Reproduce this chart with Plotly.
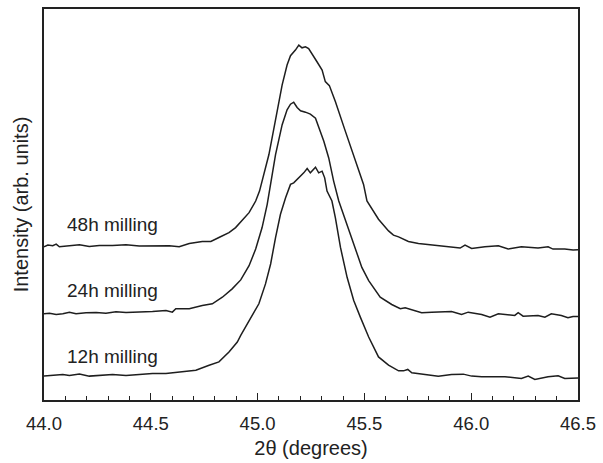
import plotly.graph_objects as go

# 2-theta (degrees) and intensity (arb. units, stacked) for each milling time
x_48h = [44.00, 44.018, 44.041, 44.057, 44.072, 44.119, 44.166, 44.212, 44.259, 44.321, 44.384, 44.446,
         44.508, 44.571, 44.586, 44.633, 44.680, 44.741, 44.781, 44.819, 44.866, 44.897, 44.921, 44.960,
         44.991, 45.009, 45.053, 45.084, 45.115, 45.138, 45.154, 45.177, 45.193, 45.208, 45.224, 45.239,
         45.255, 45.278, 45.302, 45.317, 45.336, 45.364, 45.411, 45.458, 45.496, 45.512, 45.566, 45.613,
         45.636, 45.660, 45.706, 45.753, 45.815, 45.846, 45.908, 45.948, 45.971, 46.002, 46.064, 46.127,
         46.173, 46.235, 46.313, 46.360, 46.383, 46.438, 46.477, 46.500]
y_48h = [154, 155.7, 155, 156.7, 154, 155, 156, 154.3, 155.3, 155.3, 156, 154.7,
         155, 155.3, 155, 154, 157.3, 159.3, 159.3, 163.3, 168.3, 173.3, 179.3, 188.3,
         200, 210, 246.7, 283.3, 316.7, 336.7, 346, 351.7, 356.7, 354, 355, 353.3,
         347.3, 340, 331.7, 320, 316, 300, 270, 240, 216.7, 200, 181.7, 170,
         165.7, 164, 159.3, 157.3, 156, 155, 154, 152.7, 155.7, 152.3, 154, 155,
         151.7, 154, 152.7, 154, 151.7, 151.7, 150.7, 151]

x_24h = [44.00, 44.026, 44.057, 44.088, 44.119, 44.150, 44.197, 44.244, 44.290, 44.337, 44.384, 44.446,
         44.508, 44.571, 44.601, 44.617, 44.633, 44.680, 44.741, 44.788, 44.835, 44.881, 44.921, 44.960,
         44.991, 45.021, 45.045, 45.056, 45.084, 45.115, 45.138, 45.154, 45.169, 45.185, 45.201, 45.224,
         45.247, 45.271, 45.286, 45.310, 45.333, 45.356, 45.380, 45.418, 45.458, 45.488, 45.520, 45.574,
         45.628, 45.668, 45.691, 45.738, 45.768, 45.815, 45.846, 45.908, 45.955, 45.986, 46.049, 46.088,
         46.127, 46.204, 46.220, 46.243, 46.313, 46.345, 46.375, 46.422, 46.453, 46.477, 46.500]
y_24h = [86.7, 87.3, 86, 86.7, 88.3, 86.7, 87.7, 88, 87.3, 88.7, 88, 88.3,
         89, 90, 88.3, 91.7, 91.7, 91.7, 95, 96.7, 103.3, 111.7, 120.7, 135,
         151.7, 173.3, 196.7, 210, 246.7, 276.7, 291.7, 297.3, 299.3, 294, 290.7, 289.3,
         287.3, 283.3, 275, 260, 243.3, 220, 200, 176.7, 153.3, 133.3, 120, 103.3,
         96, 91.7, 92.7, 90, 87.7, 88.3, 88.3, 89, 86, 88.3, 86, 83.3,
         86.7, 85, 87.7, 84.3, 85, 83.3, 86.7, 85, 82.7, 84, 84]

x_12h = [44.00, 44.041, 44.088, 44.119, 44.166, 44.212, 44.259, 44.321, 44.384, 44.446, 44.508, 44.571,
         44.648, 44.711, 44.773, 44.819, 44.866, 44.905, 44.921, 44.967, 45.006, 45.037, 45.061, 45.084,
         45.107, 45.131, 45.143, 45.154, 45.169, 45.193, 45.216, 45.232, 45.247, 45.271, 45.286, 45.302,
         45.314, 45.325, 45.333, 45.348, 45.364, 45.388, 45.419, 45.450, 45.481, 45.520, 45.566, 45.613,
         45.660, 45.683, 45.703, 45.722, 45.784, 45.846, 45.908, 45.963, 46.002, 46.049, 46.158, 46.235,
         46.267, 46.298, 46.360, 46.407, 46.438, 46.477, 46.500]
y_12h = [24, 25, 25.7, 24.7, 26, 24, 25, 25.7, 24.7, 26, 26.7, 26.7,
         28.3, 30, 35, 38.3, 48.3, 58.3, 65, 81.7, 96.7, 116.7, 136.7, 163.3,
         186.7, 203.3, 210, 216.7, 218.3, 223.3, 228.3, 232.7, 228.3, 234, 228.3, 230,
         223.3, 210, 206.7, 200, 183.3, 153.3, 123.3, 100, 83.3, 63.3, 43.3, 35,
         29.3, 29.3, 30.7, 27.3, 25.7, 24, 25.7, 26, 24, 23.3, 23.3, 21.7,
         24, 20.7, 23.3, 24.3, 21.7, 22.3, 22]

labels = ["48h milling", "24h milling", "12h milling"]
label_y = [176, 110, 44]
x_ticks = [44.0, 44.5, 45.0, 45.5, 46.0, 46.5]
x_tick_text = ["44.0", "44.5", "45.0", "45.5", "46.0", "46.5"]

FONT = "Liberation Sans, Arial, sans-serif"
LINE = "#1e1e1e"
TXT = "#222"

fig = go.Figure()
for xs, ys in [(x_48h, y_48h), (x_24h, y_24h), (x_12h, y_12h)]:
    fig.add_trace(go.Scatter(x=xs, y=ys, mode="lines",
                             line=dict(color=LINE, width=1.5), showlegend=False,
                             hoverinfo="skip"))

for txt, yy in zip(labels, label_y):
    fig.add_annotation(x=44.1, y=yy, text=txt, showarrow=False, xanchor="left",
                       yanchor="middle", font=dict(family=FONT, size=19, color=TXT))

fig.update_layout(
    width=603, height=463,
    margin=dict(l=44, r=22, t=7, b=63),
    paper_bgcolor="white", plot_bgcolor="white",
    font=dict(family=FONT, color=TXT),
)
fig.update_xaxes(
    range=[44.0, 46.5], tickvals=x_ticks, ticktext=x_tick_text,
    ticks="inside", ticklen=7, tickwidth=1.2, tickcolor=TXT,
    minor=dict(dtick=0.1, ticks="inside", ticklen=4, tickwidth=1.2, tickcolor=TXT),
    showline=True, linecolor=TXT, linewidth=1.5, mirror=True,
    showgrid=False, zeroline=False,
    tickfont=dict(family=FONT, size=18.5, color=TXT),
    ticklabelstandoff=6,
    title=dict(text="2θ (degrees)", font=dict(family=FONT, size=20, color=TXT), standoff=8),
)
fig.update_yaxes(
    range=[0, 393], showticklabels=False, ticks="",
    showline=True, linecolor=TXT, linewidth=1.5, mirror=True,
    showgrid=False, zeroline=False,
    title=dict(text="Intensity (arb. units)", font=dict(family=FONT, size=20, color=TXT), standoff=8),
)

fig.write_html("out.html")
